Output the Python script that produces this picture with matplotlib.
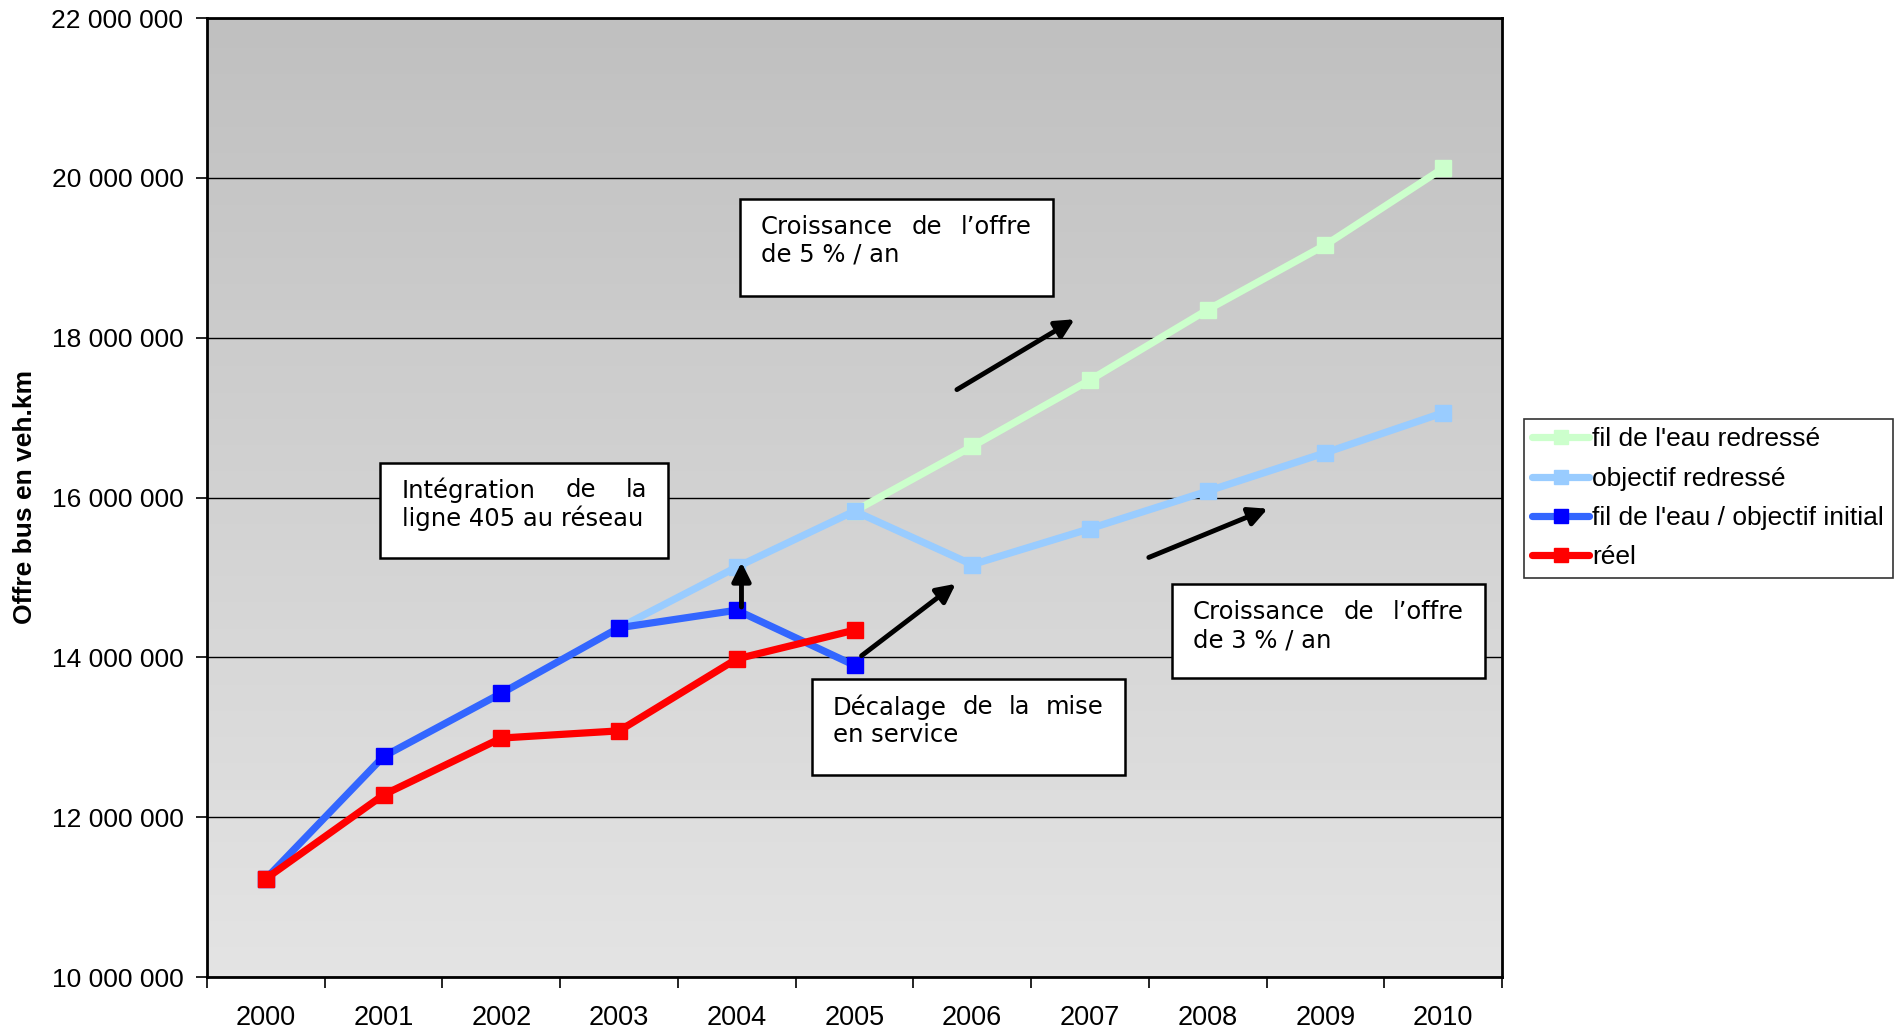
import numpy as np
import matplotlib
matplotlib.use("Agg")
import matplotlib.pyplot as plt
from matplotlib.colors import LinearSegmentedColormap
from matplotlib.patches import Rectangle, FancyArrowPatch
from matplotlib.ticker import FuncFormatter, FixedLocator

W, H = 1901, 1033
nan = np.nan

years = [str(y) for y in range(2000, 2011)]
fil_redresse = [nan, nan, nan, nan, nan, 15830000, 16640000, 17470000, 18350000, 19160000, 20120000]
obj_redresse = [nan, nan, nan, 14370000, 15130000, 15830000, 15160000, 15610000, 16080000, 16560000, 17060000]
fil_initial = [11230000, 12760000, 13550000, 14370000, 14590000, 13900000, nan, nan, nan, nan, nan]
reel = [11230000, 12280000, 12990000, 13080000, 13980000, 14340000, nan, nan, nan, nan, nan]

series = [
    ("fil de l'eau redressé", fil_redresse, "#CCFFCC", "#CCFFCC"),
    ("objectif redressé", obj_redresse, "#99CCFF", "#99CCFF"),
    ("fil de l'eau / objectif initial", fil_initial, "#3366FF", "#0000FF"),
    ("réel", reel, "#FF0000", "#FF0000"),
]

# (x, y) of arrow tail / head in data units (category index, veh.km)
arrows = [
    ((5.87, 17350000), (6.87, 18230000)),
    ((4.04, 14630000), (4.04, 15190000)),
    ((5.06, 14020000), (5.86, 14920000)),
    ((7.50, 15250000), (8.51, 15860000)),
]

# text boxes: box (x0, x1, y0, y1) in pixels, text x-range, line centres, lines
boxes = [
    ((740, 1053, 199, 296), (761, 1032), (227, 255), ["Croissance de l’offre", "de 5 % / an"]),
    ((380, 668, 463, 558), (402, 647), (490, 518), ["Intégration de la", "ligne 405 au réseau"]),
    ((812, 1125, 679, 775), (833, 1103), (707, 735), ["Décalage de la mise", "en service"]),
    ((1172, 1485, 584, 678), (1193, 1464), (612, 640), ["Croissance de l’offre", "de 3 % / an"]),
]

plt.rcParams["font.family"] = "Liberation Sans"

fig = plt.figure(figsize=(W / 100, H / 100), dpi=100)
ax = fig.add_axes([207 / W, 1 - 977 / H, (1502 - 207) / W, (977 - 18) / H])

cmap = LinearSegmentedColormap.from_list("bg", ["#C0C0C0", "#E4E4E4"])
ax.imshow(np.linspace(0, 1, 256).reshape(-1, 1), cmap=cmap, aspect="auto",
          extent=[-0.5, 10.5, 10e6, 22e6], zorder=0)

x = np.arange(len(years))
handles = []
for label, vals, lc, mc in series:
    h, = ax.plot(x, vals, color=lc, lw=5.2, marker="s", ms=11.5, mfc=mc, mec=mc,
                 label=label, zorder=3, solid_capstyle="round")
    handles.append(h)

ax.set_xlim(-0.5, 10.5)
ax.set_ylim(10e6, 22e6)
ax.set_yticks(np.arange(10e6, 22e6 + 1, 2e6))
ax.yaxis.set_major_formatter(FuncFormatter(lambda v, p: f"{v:,.0f}".replace(",", " ")))
ax.yaxis.grid(True, color="black", lw=1)
ax.set_axisbelow(True)
ax.set_xticks(x)
ax.set_xticklabels(years)
ax.xaxis.set_minor_locator(FixedLocator(np.arange(-0.5, 11, 1)))
ax.tick_params(axis="x", which="major", length=0, pad=20, labelsize=19.5)
ax.tick_params(axis="x", which="minor", length=8, width=1.2)
ax.tick_params(axis="y", length=8, width=1.2, pad=9, labelsize=19)
for s in ax.spines.values():
    s.set_linewidth(2)
ax.set_ylabel("Offre bus en veh.km", fontsize=19, fontweight="bold", labelpad=10)

for (x0, y0), (x1, y1) in arrows:
    ax.add_patch(FancyArrowPatch((x0, y0), (x1, y1), arrowstyle="-|>", mutation_scale=28,
                                 lw=3.5, color="black", zorder=5, shrinkA=0, shrinkB=0))


def fx(px):
    return px / W


def fy(py):
    return 1 - py / H


fig.canvas.draw()
renderer = fig.canvas.get_renderer()
for (bx0, bx1, by0, by1), (tx0, tx1), centres, lines in boxes:
    fig.add_artist(Rectangle((fx(bx0), fy(by1)), fx(bx1 - bx0), (by1 - by0) / H,
                             transform=fig.transFigure, facecolor="white",
                             edgecolor="black", lw=1.8, zorder=6))
    for i, (line, cy) in enumerate(zip(lines, centres)):
        words = line.split(" ")
        if i == len(lines) - 1:
            fig.text(fx(tx0), fy(cy), line, ha="left", va="center", fontsize=17.5,
                     family="DejaVu Sans", zorder=7)
            continue
        # justified first line, like the word-processor boxes
        objs = [fig.text(0, fy(cy), w, ha="left", va="center", fontsize=17.5,
                         family="DejaVu Sans", zorder=7) for w in words]
        widths = [o.get_window_extent(renderer).width for o in objs]
        gap = ((tx1 - tx0) - sum(widths)) / (len(words) - 1)
        pos = tx0
        for o, w in zip(objs, widths):
            o.set_x(fx(pos))
            pos += w + gap

leg = fig.legend(handles=handles, loc="upper left", bbox_to_anchor=(1524 / W, fy(419)),
                 borderaxespad=0, fontsize=19, frameon=True, fancybox=False,
                 edgecolor="black", handlelength=2.15, handletextpad=0.12,
                 labelspacing=0.58, borderpad=0.32, markerscale=0.9)
leg.get_frame().set_linewidth(1.2)

fig.savefig("out.png", dpi=100)
